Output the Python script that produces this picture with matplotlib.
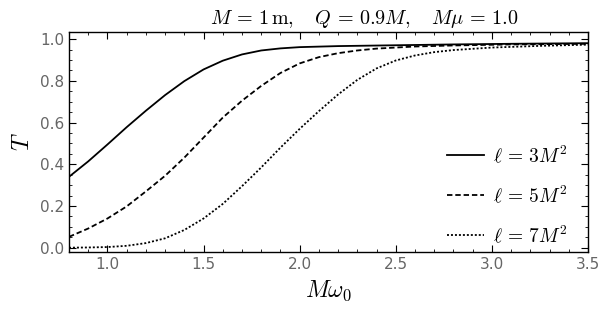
import numpy as np
import matplotlib
matplotlib.use("Agg")
import matplotlib.pyplot as plt
from matplotlib.ticker import MultipleLocator

plt.rcParams['mathtext.fontset'] = 'cm'

# curves
x3 = [0.8, 0.9, 1.0, 1.1, 1.2, 1.3, 1.4, 1.5, 1.6, 1.7, 1.8, 1.9, 2.0, 2.2, 2.5, 2.8, 3.1, 3.5]
T3 = [0.340, 0.414, 0.495, 0.578, 0.657, 0.732, 0.799, 0.855, 0.897, 0.927, 0.946, 0.956,
      0.962, 0.967, 0.971, 0.975, 0.978, 0.981]

x5 = [0.8, 0.9, 1.0, 1.1, 1.2, 1.3, 1.4, 1.5, 1.6, 1.7, 1.8, 1.9, 2.0, 2.1, 2.2, 2.3, 2.4,
      2.6, 2.8, 3.1, 3.5]
T5 = [0.052, 0.092, 0.140, 0.198, 0.270, 0.345, 0.432, 0.528, 0.624, 0.705, 0.776, 0.838,
      0.884, 0.914, 0.933, 0.946, 0.955, 0.965, 0.970, 0.975, 0.978]

x7 = [0.8, 0.9, 1.0, 1.1, 1.2, 1.3, 1.4, 1.5, 1.6, 1.7, 1.8, 1.9, 2.0, 2.1, 2.2, 2.3, 2.4,
      2.5, 2.6, 2.7, 2.8, 3.0, 3.25, 3.5]
T7 = [0.0, 0.001, 0.003, 0.009, 0.022, 0.045, 0.085, 0.140, 0.210, 0.295, 0.385, 0.480,
      0.570, 0.655, 0.735, 0.805, 0.860, 0.898, 0.922, 0.938, 0.948, 0.960, 0.968, 0.974]

labels = [r'$\ell\,=\,3M^2$', r'$\ell\,=\,5M^2$', r'$\ell\,=\,7M^2$']

fig = plt.figure(figsize=(6, 3.16), dpi=100)
ax = fig.add_axes([0.115, 0.203, 0.865, 0.696])

ax.plot(x3, T3, color='black', lw=1.3, ls='-', label=labels[0])
ax.plot(x5, T5, color='black', lw=1.3, ls=(0, (3, 1.6)), label=labels[1])
ax.plot(x7, T7, color='black', lw=1.3, ls=(0, (1.1, 1.1)), label=labels[2])

ax.set_xlim(0.8, 3.5)
ax.set_ylim(-0.02, 1.035)
ax.xaxis.set_major_locator(MultipleLocator(0.5))
ax.xaxis.set_minor_locator(MultipleLocator(0.1))
ax.yaxis.set_major_locator(MultipleLocator(0.2))
ax.yaxis.set_minor_locator(MultipleLocator(0.05))
ax.tick_params(which='both', direction='in', top=True, right=True,
               labelcolor='#666666', labelsize=11)
ax.tick_params(which='major', length=5)
ax.tick_params(which='minor', length=2.5)
for s in ax.spines.values():
    s.set_linewidth(1.0)

ax.set_xlabel(r'$M\omega_0$', fontsize=17, labelpad=5)
ax.set_ylabel(r'$T$', fontsize=17, labelpad=4)
ax.set_title(r'$M\,=\,1\,\mathrm{m},\quad Q\,=\,0.9M,\quad M\mu\,=\,1.0$',
             fontsize=14.5, pad=6, x=0.568)

ax.legend(loc='lower right', frameon=False, fontsize=14, handlelength=1.9,
          handletextpad=0.45, labelspacing=0.95, borderaxespad=0.0,
          bbox_to_anchor=(0.975, -0.01))

fig.savefig('out.png', dpi=100)
